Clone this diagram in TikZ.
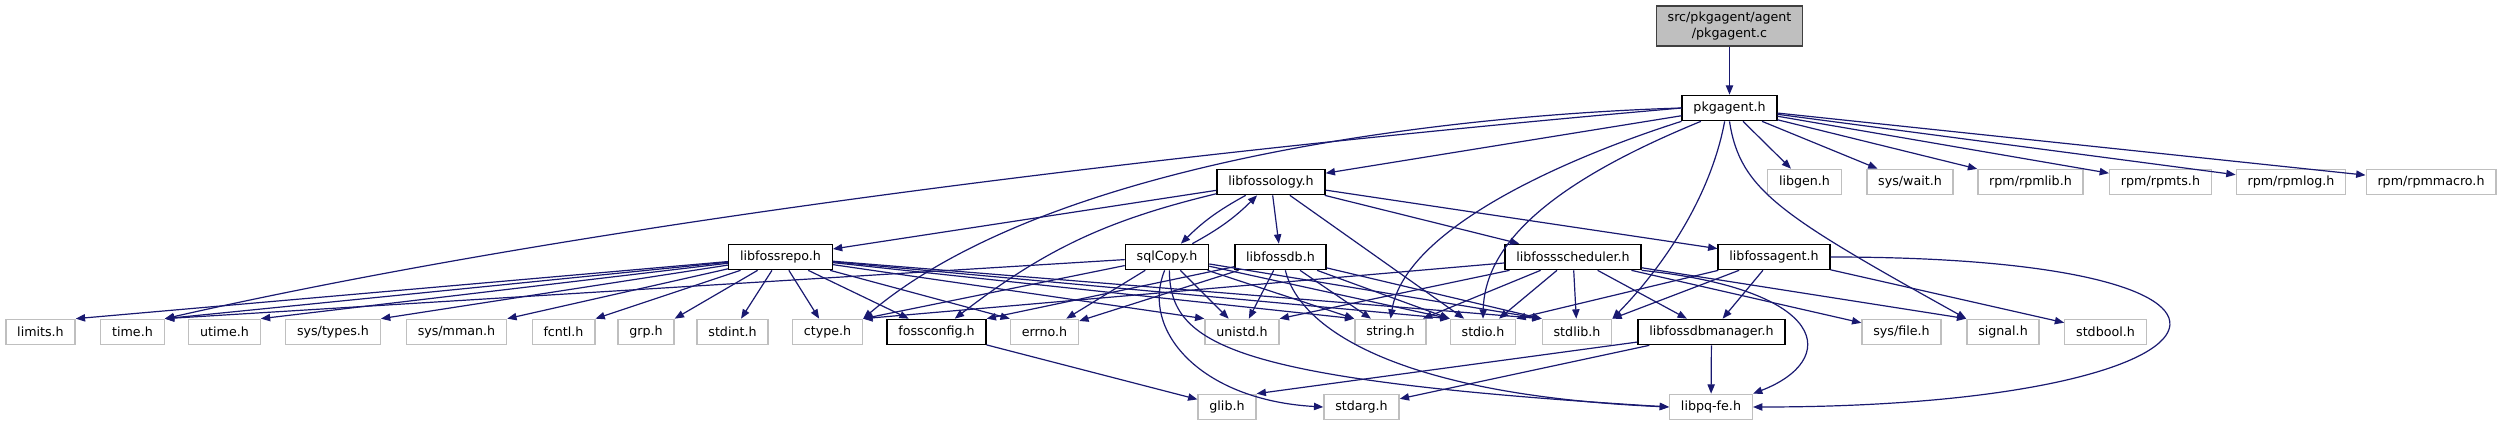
\documentclass[tikz,border=0pt]{standalone}
\usepackage{fontspec}
\setmainfont{DejaVu Sans}
\usetikzlibrary{arrows.meta}
\definecolor{incl}{HTML}{191970}
\definecolor{rootfill}{HTML}{BFBFBF}
\definecolor{sysgray}{HTML}{BFBFBF}
\tikzset{
  file/.style={draw=black,line width=1pt,fill=white,inner xsep=8.5pt,inner ysep=0pt,
    minimum height=19pt,font=\fontsize{9.5}{11.5}\selectfont},
  syshdr/.style={file,draw=sysgray},
  rootfile/.style={file,fill=rootfill,draw=black!75,align=center,minimum height=30pt},
  dep/.style={draw=incl,line width=0.9pt,-{Triangle[length=7pt,width=5.5pt]}}
}
\begin{document}
\begin{tikzpicture}[x=0.75pt,y=-0.75pt]
\useasboundingbox (0,0) rectangle (2507,425);

\node[rootfile] (pkgc) at (1729.5,26) {src/pkgagent/agent\\/pkgagent.c};
\node[file] (pkgagent) at (1729.5,108) {pkgagent.h};

% rank 2
\node[file] (libfossology) at (1271,182) {libfossology.h};
\node[syshdr] (libgen) at (1804.5,182) {libgen.h};
\node[syshdr] (syswait) at (1910,182) {sys/wait.h};
\node[syshdr] (rpmlib) at (2030.5,182) {rpm/rpmlib.h};
\node[syshdr] (rpmts) at (2160.5,182) {rpm/rpmts.h};
\node[syshdr] (rpmlog) at (2291,182) {rpm/rpmlog.h};
\node[syshdr] (rpmmacro) at (2431,182) {rpm/rpmmacro.h};

% rank 3
\node[file] (libfossrepo) at (780.5,257) {libfossrepo.h};
\node[file] (sqlCopy) at (1167,257) {sqlCopy.h};
\node[file] (libfossdb) at (1280.5,257) {libfossdb.h};
\node[file] (libfossscheduler) at (1573,257) {libfossscheduler.h};
\node[file] (libfossagent) at (1774,257) {libfossagent.h};

% rank 4
\node[syshdr] (limitsh) at (40.5,332) {limits.h};
\node[syshdr] (timeh) at (132.5,332) {time.h};
\node[syshdr] (utimeh) at (224.5,332) {utime.h};
\node[syshdr] (systypesh) at (333,332) {sys/types.h};
\node[syshdr] (sysmmanh) at (456.5,332) {sys/mman.h};
\node[syshdr] (fcntlh) at (563.5,332) {fcntl.h};
\node[syshdr] (grph) at (646,332) {grp.h};
\node[syshdr] (stdinth) at (732.5,332) {stdint.h};
\node[syshdr] (ctypeh) at (827.5,332) {ctype.h};
\node[file] (fossconfigh) at (936.5,332) {fossconfig.h};
\node[syshdr] (errnoh) at (1044.5,332) {errno.h};
\node[syshdr] (unistdh) at (1242,332) {unistd.h};
\node[syshdr] (stringh) at (1390.5,332) {string.h};
\node[syshdr] (stdioh) at (1483,332) {stdio.h};
\node[syshdr] (stdlibh) at (1577,332) {stdlib.h};
\node[file] (libfossdbmanager) at (1711.5,332) {libfossdbmanager.h};
\node[syshdr] (sysfileh) at (1901.5,332) {sys/file.h};
\node[syshdr] (signalh) at (2003,332) {signal.h};
\node[syshdr] (stdboolh) at (2105.5,332) {stdbool.h};

% rank 5
\node[syshdr] (glibh) at (1227,407) {glib.h};
\node[syshdr] (stdargh) at (1361.5,407) {stdarg.h};
\node[syshdr] (libpq) at (1711,407) {libpq-fe.h};

\draw[dep] (pkgc) -- (pkgagent);
\foreach \t in {libfossology,libgen,syswait,rpmlib,rpmts,rpmlog,rpmmacro}
  \draw[dep] (pkgagent) -- (\t);
\draw[dep] (pkgagent.west) .. controls (1200,150) and (600,220) .. (timeh.north east);
\draw[dep] (pkgagent.west) .. controls (1450,115) and (1050,160) .. (ctypeh.north east);
\draw[dep] (pkgagent.south west) .. controls (1560,160) and (1405,230) .. (stringh.north);
\draw[dep] (pkgagent.205) .. controls (1570,175) and (1485,235) .. (stdioh.north);
\draw[dep] (pkgagent.250) .. controls (1710,200) and (1660,270) .. (stdlibh.north east);
\draw[dep] (pkgagent.south) .. controls (1740,190) and (1780,215) .. (signalh.north west);

\foreach \t in {libfossrepo,libfossdb,libfossscheduler,libfossagent,stdioh}
  \draw[dep] (libfossology) -- (\t);
\draw[dep] (libfossology) to[bend right=12] (fossconfigh);
\draw[dep] (libfossology) to[bend right=8] (sqlCopy);
\draw[dep] (sqlCopy) to[bend right=8] (libfossology);

\foreach \t in {timeh.north east,ctypeh.north east,errnoh,unistdh,stringh.north west,stdioh.north west,stdlibh.north west}
  \draw[dep] (sqlCopy) -- (\t);
\draw[dep] (sqlCopy.260) .. controls (1140,330) and (1200,400) .. (stdargh.west);
\draw[dep] (sqlCopy.280) .. controls (1170,345) and (1230,380) .. (libpq.west);

\foreach \t in {limitsh.north east,timeh.north east,utimeh.north east,systypesh.north east,sysmmanh.north east,fcntlh.north east,grph.north east,stdinth,ctypeh,fossconfigh,errnoh.north west,unistdh.north west,stringh.north west,stdioh.north west,stdlibh.north west}
  \draw[dep] (libfossrepo) -- (\t);

\foreach \t in {fossconfigh.north east,errnoh,unistdh,stringh,stdioh.north west,stdlibh.north west}
  \draw[dep] (libfossdb) -- (\t);
\draw[dep] (libfossdb.290) .. controls (1300,330) and (1400,395) .. (libpq.west);

\foreach \t in {ctypeh.north east,unistdh.north east,stringh,stdioh,stdlibh,libfossdbmanager,sysfileh,signalh.north west}
  \draw[dep] (libfossscheduler) -- (\t);
\draw[dep] (libfossscheduler.south east) .. controls (1830,290) and (1840,360) .. (libpq.north east);

\foreach \t in {stdioh.north east,stdlibh.north east,libfossdbmanager,stdboolh}
  \draw[dep] (libfossagent) -- (\t);
\draw[dep] (libfossagent.east) .. controls +(500,0) and +(500,0) .. (libpq.east);

\foreach \t in {glibh.north east,stdargh,libpq}
  \draw[dep] (libfossdbmanager) -- (\t);
\draw[dep] (fossconfigh) -- (glibh);
\end{tikzpicture}
\end{document}
